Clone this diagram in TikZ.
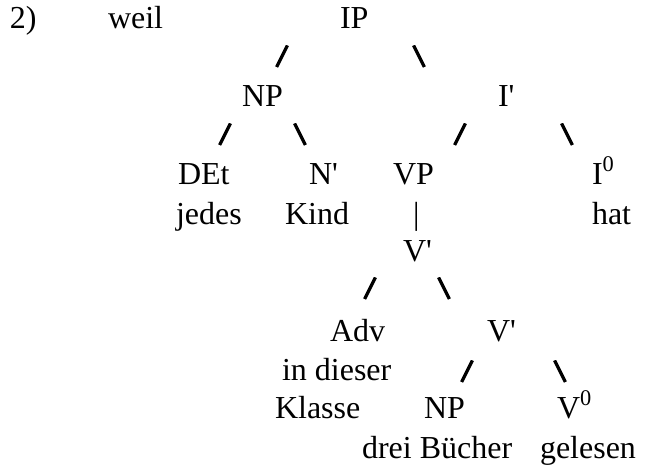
\documentclass[tikz,border=0pt]{standalone}
\usepackage{fontspec}
\setmainfont{Liberation Serif}[Ligatures=TeXOff]
\usetikzlibrary{positioning}

\newcommand{\labsize}{\fontsize{16}{19}\selectfont}

\begin{document}
\begin{tikzpicture}[
  x=0.5pt, y=-0.5pt,
  every node/.style={inner sep=0pt, outer sep=0pt, anchor=base west},
  cat/.style={font=\labsize},
  branch/.style={anchor=south west, minimum width=7pt, minimum height=10.8pt},
  brl/.style={branch, path picture={
      \draw[line width=1.6pt]
        ([xshift=0.8pt]path picture bounding box.south west) --
        ([xshift=-0.8pt]path picture bounding box.north east);}},
  brr/.style={branch, path picture={
      \draw[line width=1.6pt]
        ([xshift=0.8pt]path picture bounding box.north west) --
        ([xshift=-0.8pt]path picture bounding box.south east);}},
]
\useasboundingbox (0,0) rectangle (649,468);

% ── Row 1: number, complementizer, root ──
\node[cat] (num)  at (10,28)  {2)};
\node[cat] (weil) at (108,28) {weil};
\node[cat] (ip)   at (340,28) {IP};

% ── IP branches ──
\node[brl] (ipL) at (275,67) {};
\node[brr] (ipR) at (412,67) {};

% ── NP and I' ──
\node[cat] (np1) at (242,106) {NP};
\node[cat] (ibar) at (498,106) {I'};

% ── NP / I' branches ──
\node[brl] (np1L)  at (218,145) {};
\node[brr] (np1R)  at (293,145) {};
\node[brl] (ibarL) at (453,145) {};
\node[brr] (ibarR) at (560,145) {};

% ── Daughters ──
\node[cat] (det)  at (178,184) {DEt};
\node[cat] (nbar) at (309,184) {N'};
\node[cat] (vp)   at (393,184) {VP};
\node[cat] (infl) at (592,184) {I\textsuperscript{0}};

% ── Words ──
\node[cat] (jedes) at (176,224) {jedes};
\node[cat] (kind)  at (285,224) {Kind};
\node[cat] (vpbar) at (413,224) {|};
\node[cat] (hat)   at (592,224) {hat};

% ── V' ──
\node[cat] (vbar1) at (403,261) {V'};
\node[brl] (vbar1L) at (363,299) {};
\node[brr] (vbar1R) at (437,299) {};

% ── Adverb and lower V' ──
\node[cat] (adv)   at (330,341) {Adv};
\node[cat] (vbar2) at (487,341) {V'};
\node[cat] (advw)  at (282,380) {in dieser};
\node[brl] (vbar2L) at (460,382) {};
\node[brr] (vbar2R) at (553,382) {};

% ── Object and verb ──
\node[cat] (klasse) at (275,418) {Klasse};
\node[cat] (np2)    at (424,418) {NP};
\node[cat] (verb)   at (557,418) {V\textsuperscript{0}};
\node[cat] (buecher) at (362,458) {drei Bücher};
\node[cat] (gelesen) at (540,458) {gelesen};

\end{tikzpicture}
\end{document}
